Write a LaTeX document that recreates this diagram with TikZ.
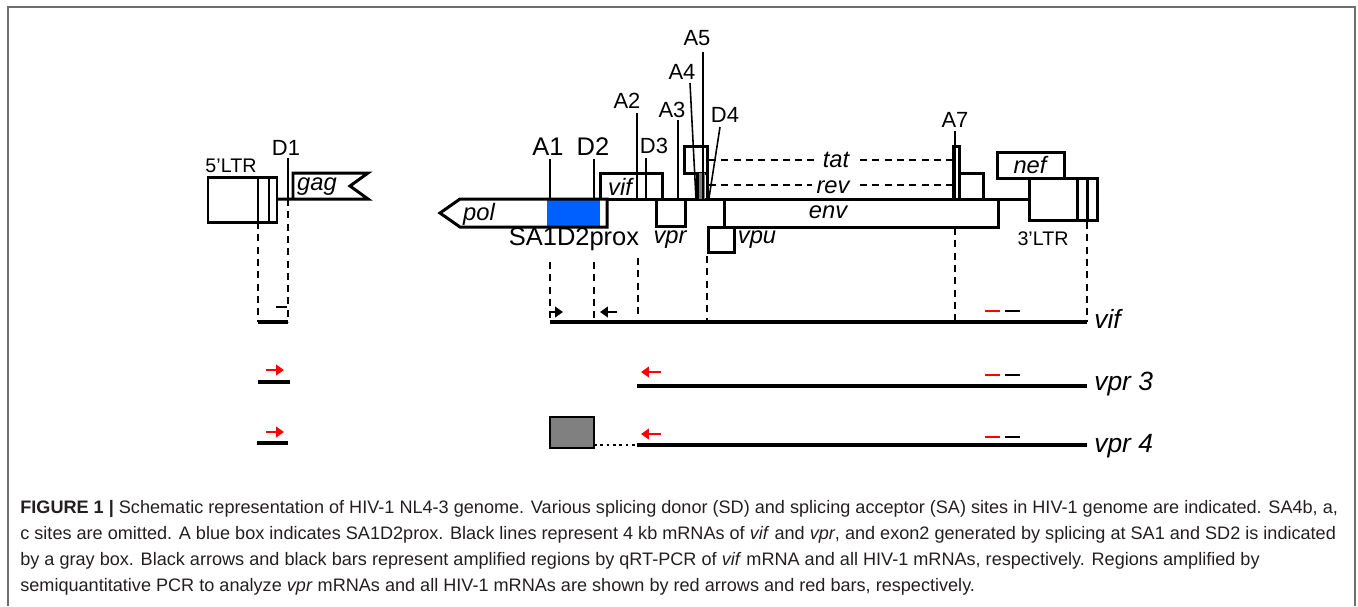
\documentclass[tikz,border=0pt]{standalone}
\usepackage{fontspec}
\setmainfont{Liberation Sans}
\usetikzlibrary{arrows.meta}
\definecolor{HIVBlue}{HTML}{0060FF}
\definecolor{HIVRed}{HTML}{FF0000}
\definecolor{HIVGray}{HTML}{808080}
\definecolor{FrameGray}{HTML}{6E6E6E}
\definecolor{CapText}{HTML}{231F20}

\begin{document}
\begin{tikzpicture}[x=0.02cm,y=-0.02cm,
  box/.style={line width=1.7pt},
  site/.style={line width=0.9pt},
  guide/.style={line width=0.8pt,dash pattern=on 4pt off 3pt},
  mrna/.style={line width=2.4pt},
  genelab/.style={font=\fontsize{13.5}{16}\selectfont\itshape,anchor=base,inner sep=0pt},
  sitelab/.style={font=\fontsize{12.5}{15}\selectfont,anchor=base,inner sep=0pt},
  biglab/.style={font=\fontsize{14.5}{17}\selectfont,anchor=base,inner sep=0pt},
  ltrlab/.style={font=\fontsize{11.2}{13}\selectfont,anchor=base,inner sep=0pt},
  rnalab/.style={font=\fontsize{15}{18}\selectfont\itshape,anchor=base west,inner sep=0pt},
  primer/.style={-{Triangle[length=4.5pt,width=6pt]},line width=1.5pt},
  amplicon/.style={line width=1.6pt},
  caption/.style={font=\fontsize{10.3}{12}\selectfont,text=CapText,anchor=base west,inner sep=0pt}]
  \useasboundingbox (0,0) rectangle (1358,606);
  \draw[FrameGray,line width=1.1pt] (8,606) -- (8,7) -- (1355,7) -- (1355,606);
  % 5' LTR and gag
  \draw[box] (208,177) rectangle (277,222);
  \draw[box] (258,177) -- (258,222) (269,177) -- (269,222);
  \draw[box] (277,199) -- (368,199) -- (350,186) -- (368,173) -- (293,173) -- (293,199);
  \draw[site] (288,158) -- (288,199);
  \node[ltrlab] (ltr5) at (231,172) {5'LTR};
  \node[sitelab] (labD1) at (286,155) {D1};
  \node[genelab] (gag) at (317,190) {gag};
  % pol to 3' LTR
  \fill[HIVBlue] (547,200) rectangle (600,226);
  \draw[box] (607,199) -- (460,199) -- (440,213) -- (460,227) -- (607,227) -- cycle;
  \draw[box] (607,199) -- (1029,199);
  \draw[box] (600,199) -- (600,173) -- (662,173) -- (662,199);
  \draw[box] (656,199) -- (656,226) -- (685,226) -- (685,199);
  \draw[box] (684,146) rectangle (707,173);
  \draw[box] (697,173) -- (697,199) (707,173) -- (707,199);
  \foreach \x in {700,702,704}
    \draw[HIVGray,line width=0.6pt] (\x,173) -- (\x,199);
  \draw[box] (724,199) -- (724,227) -- (998,227) -- (998,199);
  \draw[box] (708,227) rectangle (734,252);
  \draw[box] (953,199) -- (953,146) -- (959,146) -- (959,199);
  \draw[box] (959,173) -- (983,173) -- (983,199);
  \draw[box] (997,152) rectangle (1064,178);
  \draw[box] (1029,178) rectangle (1097,220);
  \draw[box] (1077,178) -- (1077,220) (1087,178) -- (1087,220);
  \foreach \x/\top in {550/159,594/159,637/113,646/158,678/120,703/52,955/131}
    \draw[site] (\x,\top) -- (\x,199);
  \draw[site] (690,83) -- (696,199);
  \draw[site] (720,127) -- (709,198);
  \draw[guide] (709,160) -- (815,160) (860,160) -- (953,160);
  \draw[guide] (709,185) -- (812,185) (860,185) -- (953,185);
  \node[biglab] (labA1) at (548,155) {A1};
  \node[biglab] (labD2) at (593,155) {D2};
  \foreach \x/\y/\lab in {627/108/A2,654/153/D3,672/117/A3,682/79/A4,697/45/A5,725/122/D4,955/127/A7}
    \node[sitelab] (lab\lab) at (\x,\y) {\lab};
  \node[genelab] (pol) at (479,220) {pol};
  \node[genelab] (vif) at (620,195) {vif};
  \node[genelab] (vpr) at (670,243) {vpr};
  \node[genelab] (vpu) at (757,243) {vpu};
  \node[genelab] (tat) at (836,167) {tat};
  \node[genelab] (rev) at (833,193) {rev};
  \node[genelab] (env) at (828,218) {env};
  \node[genelab] (nef) at (1030,173) {nef};
  \node[ltrlab] (ltr3) at (1043,245) {3'LTR};
  \node[biglab] (prox) at (574,245) {SA1D2prox};
  % guides to the mRNAs
  \draw[guide] (258,222) -- (258,322);
  \draw[guide] (288,199) -- (288,322);
  \foreach \x/\top in {550/262,594/262,638/258,707/256,955/228,1087/222}
    \draw[guide] (\x,\top) -- (\x,322);
  % mRNAs
  \draw[mrna] (550,322) -- (1087,322);
  \draw[mrna] (258,322) -- (288,322);
  \draw[mrna] (637,386) -- (1087,386);
  \draw[mrna] (258,382) -- (290,382);
  \draw[mrna] (637,445) -- (1087,445);
  \draw[mrna] (257,443) -- (288,443);
  \draw[line width=1.6pt,dotted] (594,445) -- (637,445);
  \draw[fill=HIVGray,line width=1pt] (550,417) rectangle (594,448);
  \node[rnalab] (rnavif) at (1094,328) {vif};
  \node[rnalab] (rnavpr3) at (1094,390) {vpr 3};
  \node[rnalab] (rnavpr4) at (1094,452) {vpr 4};
  % primers and amplicons
  \draw[primer] (551,312) -- (563,312);
  \draw[primer] (617,312) -- (600,312);
  \draw[amplicon] (276,307) -- (287,307);
  \foreach \y/\r in {370/372,432/434}{
    \draw[primer,HIVRed] (266,\y) -- (284,\y);
    \draw[primer,HIVRed] (661,\r) -- (641,\r);
  }
  \foreach \y in {311,375,437}{
    \draw[amplicon,HIVRed] (985,\y) -- (1000,\y);
    \draw[amplicon] (1005,\y) -- (1020,\y);
  }
  % caption
  \node[caption] (cap1) at (20,513) {\textbf{FIGURE 1 |} Schematic representation of HIV-1 NL4-3 genome. Various splicing donor (SD) and splicing acceptor (SA) sites in HIV-1 genome are indicated. SA4b, a,};
  \node[caption] (cap2) at (20,539) {c sites are omitted. A blue box indicates SA1D2prox. Black lines represent 4 kb mRNAs of \textit{vif} and \textit{vpr}, and exon2 generated by splicing at SA1 and SD2 is indicated};
  \node[caption] (cap3) at (20,565) {by a gray box. Black arrows and black bars represent amplified regions by qRT-PCR of \textit{vif} mRNA and all HIV-1 mRNAs, respectively. Regions amplified by};
  \node[caption] (cap4) at (20,591) {semiquantitative PCR to analyze \textit{vpr} mRNAs and all HIV-1 mRNAs are shown by red arrows and red bars, respectively.};
\end{tikzpicture}
\end{document}
